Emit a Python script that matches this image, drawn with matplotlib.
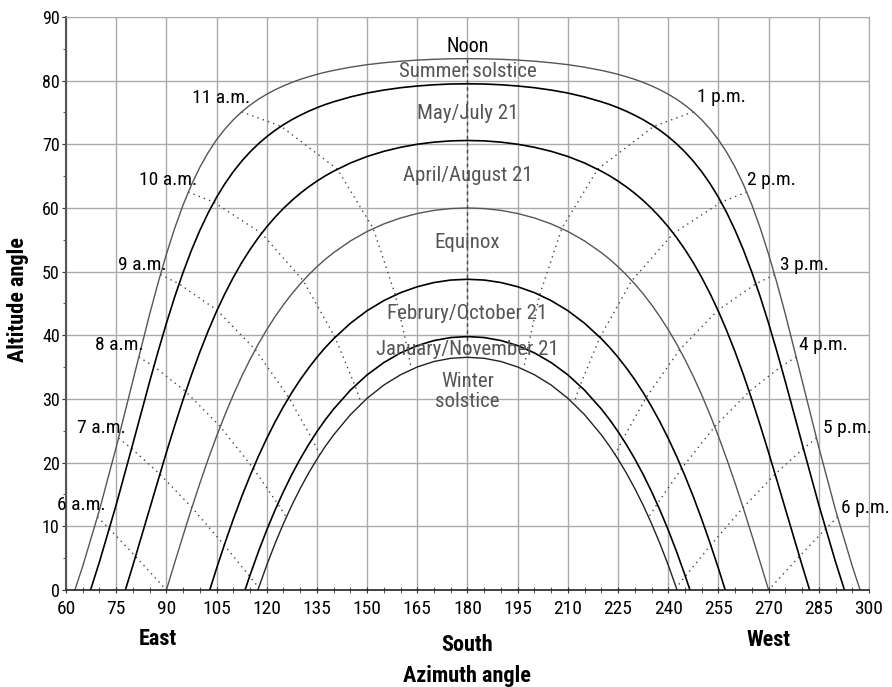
import matplotlib
matplotlib.use("Agg")
import matplotlib.pyplot as plt
from matplotlib.ticker import MultipleLocator

plt.rcParams['font.family'] = ['Roboto Condensed', 'Liberation Sans Narrow', 'Roboto', 'DejaVu Sans']

# sun path curves (azimuth, altitude)
summer_az = [62.65, 65, 70, 75, 80, 85, 87.5, 90, 92.5, 95, 97.5, 100, 102.5, 105, 107.5, 110, 112.5, 115, 117.5, 120,
             122.5, 125, 127.5, 130, 132.5, 135, 137.5, 140, 145, 150, 155, 160, 165, 170, 175, 180,
             185, 190, 195, 200, 205, 210, 215, 220, 222.5, 225, 227.5, 230, 232.5, 235, 237.5, 240, 242.5, 245,
             247.5, 250, 252.5, 255, 257.5, 260, 262.5, 265, 267.5, 270, 272.5, 275, 280, 285, 290, 295, 297.35]
summer_alt = [0, 3.75, 12.57, 22.42, 32.91, 43.32, 48.20, 52.73, 56.84, 60.48, 63.66, 66.39, 68.72, 70.72, 72.40, 73.85,
              75.09, 76.15, 77.08, 77.87, 78.57, 79.18, 79.72, 80.20, 80.61, 80.99, 81.32, 81.61, 82.11, 82.51, 82.81,
              83.05, 83.23, 83.35, 83.43, 83.45,
              83.43, 83.35, 83.23, 83.05, 82.81, 82.51, 82.11, 81.61, 81.32, 80.99, 80.61, 80.20, 79.72, 79.18, 78.57,
              77.87, 77.08, 76.15, 75.09, 73.85, 72.40, 70.72, 68.72, 66.39, 63.66, 60.48, 56.84, 52.73, 48.20, 43.32,
              32.91, 22.42, 12.57, 3.75, 0]

may_az = [67.33, 70, 75, 80, 85, 87.5, 90, 92.5, 95, 97.5, 100, 102.5, 105, 107.5, 110, 112.5, 115, 117.5, 120, 122.5,
          125, 127.5, 130, 132.5, 135, 137.5, 140, 145, 150, 155, 160, 165, 170, 175, 180,
          185, 190, 195, 200, 205, 210, 215, 220, 222.5, 225, 227.5, 230, 232.5, 235, 237.5, 240, 242.5, 245, 247.5,
          250, 252.5, 255, 257.5, 260, 262.5, 265, 267.5, 270, 272.5, 275, 280, 285, 290, 292.67]
may_alt = [0, 4.42, 13.38, 23.00, 32.73, 37.42, 41.88, 46.06, 49.89, 53.37, 56.48, 59.24, 61.68, 63.82, 65.70, 67.35,
           68.80, 70.07, 71.20, 72.20, 73.08, 73.87, 74.56, 75.19, 75.75, 76.25, 76.68, 77.44, 78.05, 78.52, 78.89,
           79.16, 79.35, 79.47, 79.5,
           79.47, 79.35, 79.16, 78.89, 78.52, 78.05, 77.44, 76.68, 76.25, 75.75, 75.19, 74.56, 73.87, 73.08, 72.20,
           71.20, 70.07, 68.80, 67.35, 65.70, 63.82, 61.68, 59.24, 56.48, 53.37, 49.89, 46.06, 41.88, 37.42, 32.73,
           23.00, 13.38, 4.42, 0]

apr_az = [77.74, 80, 85, 87.5, 90, 92.5, 95, 97.5, 100, 102.5, 105, 107.5, 110, 112.5, 115, 117.5, 120, 122.5, 125,
          127.5, 130, 132.5, 135, 137.5, 140, 145, 150, 155, 160, 165, 170, 175, 180,
          185, 190, 195, 200, 205, 210, 215, 220, 222.5, 225, 227.5, 230, 232.5, 235, 237.5, 240, 242.5, 245, 247.5,
          250, 252.5, 255, 257.5, 260, 262.5, 265, 267.5, 270, 272.5, 275, 280, 282.26]
apr_alt = [0, 3.89, 12.75, 17.20, 21.59, 25.84, 29.91, 33.77, 37.37, 40.70, 43.77, 46.55, 49.09, 51.40, 53.47, 55.35,
           57.04, 58.56, 59.94, 61.18, 62.30, 63.31, 64.22, 65.05, 65.78, 67.06, 68.09, 68.90, 69.53, 70.01, 70.34,
           70.54, 70.6,
           70.54, 70.34, 70.01, 69.53, 68.90, 68.09, 67.06, 65.78, 65.05, 64.22, 63.31, 62.30, 61.18, 59.94, 58.56,
           57.04, 55.35, 53.47, 51.40, 49.09, 46.55, 43.77, 40.70, 37.37, 33.77, 29.91, 25.84, 21.59, 17.20, 12.75,
           3.89, 0]

equinox_az = [90, 92.5, 95, 97.5, 100, 102.5, 105, 107.5, 110, 112.5, 115, 117.5, 120, 122.5, 125, 127.5, 130, 132.5,
              135, 137.5, 140, 145, 150, 155, 160, 165, 170, 175, 180,
              185, 190, 195, 200, 205, 210, 215, 220, 222.5, 225, 227.5, 230, 232.5, 235, 237.5, 240, 242.5, 245,
              247.5, 250, 252.5, 255, 257.5, 260, 262.5, 265, 267.5, 270]
equinox_alt = [0, 4.32, 8.58, 12.74, 16.74, 20.55, 24.15, 27.51, 30.64, 33.54, 36.20, 38.65, 40.89, 42.94, 44.81, 46.52,
               48.07, 49.48, 50.77, 51.94, 52.99, 54.82, 56.31, 57.50, 58.43, 59.13, 59.62, 59.91, 60.0,
               59.91, 59.62, 59.13, 58.43, 57.50, 56.31, 54.82, 52.99, 51.94, 50.77, 49.48, 48.07, 46.52, 44.81,
               42.94, 40.89, 38.65, 36.20, 33.54, 30.64, 27.51, 24.15, 20.55, 16.74, 12.74, 8.58, 4.32, 0]

feb_az = [102.96, 105, 107.5, 110, 112.5, 115, 117.5, 120, 122.5, 125, 127.5, 130, 132.5, 135, 137.5, 140, 145, 150,
          155, 160, 165, 170, 175, 180,
          185, 190, 195, 200, 205, 210, 215, 220, 222.5, 225, 227.5, 230, 232.5, 235, 237.5, 240, 242.5, 245, 247.5,
          250, 252.5, 255, 257.04]
feb_alt = [0, 3.39, 7.36, 11.12, 14.65, 17.93, 20.99, 23.81, 26.42, 28.81, 31.02, 33.03, 34.86, 36.55, 38.08, 39.47,
           41.89, 43.87, 45.45, 46.70, 47.63, 48.29, 48.68, 48.8,
           48.68, 48.29, 47.63, 46.70, 45.45, 43.87, 41.89, 39.47, 38.08, 36.55, 34.86, 33.03, 31.02, 28.81, 26.42,
           23.81, 20.99, 17.93, 14.65, 11.12, 7.36, 3.39, 0]

jan_az = [113.50, 115, 117.5, 120, 122.5, 125, 127.5, 130, 132.5, 135, 137.5, 140, 145, 150, 155, 160, 165, 170, 175,
          180,
          185, 190, 195, 200, 205, 210, 215, 220, 222.5, 225, 227.5, 230, 232.5, 235, 237.5, 240, 242.5, 245, 246.50]
jan_alt = [0, 2.33, 6.01, 9.42, 12.57, 15.47, 18.15, 20.59, 22.82, 24.87, 26.74, 28.43, 31.38, 33.79, 35.72, 37.24,
           38.38, 39.18, 39.65, 39.8,
           39.65, 39.18, 38.38, 37.24, 35.72, 33.79, 31.38, 28.43, 26.74, 24.87, 22.82, 20.59, 18.15, 15.47, 12.57,
           9.42, 6.01, 2.33, 0]

winter_az = [117.35, 120, 122.5, 125, 127.5, 130, 132.5, 135, 137.5, 140, 145, 150, 155, 160, 165, 170, 175, 180,
             185, 190, 195, 200, 205, 210, 215, 220, 222.5, 225, 227.5, 230, 232.5, 235, 237.5, 240, 242.65]
winter_alt = [0, 3.91, 7.31, 10.44, 13.32, 15.94, 18.35, 20.55, 22.56, 24.37, 27.53, 30.11, 32.19, 33.81, 35.03,
              35.89, 36.39, 36.55,
              36.39, 35.89, 35.03, 33.81, 32.19, 30.11, 27.53, 24.37, 22.56, 20.55, 18.35, 15.94, 13.32, 10.44,
              7.31, 3.91, 0]

# hour lines, points from summer solstice down to winter solstice
am_labels = ['6 a.m.', '7 a.m.', '8 a.m.', '9 a.m.', '10 a.m.', '11 a.m.']
am_az = [[69.41, 72.95, 80.79, 90.0],
         [75.70, 79.60, 88.06, 97.63, 107.30, 114.88, 117.60],
         [81.75, 86.26, 95.80, 106.10, 115.95, 123.29, 125.84],
         [88.21, 93.79, 105.15, 116.57, 126.59, 133.55, 135.88],
         [96.55, 104.18, 118.45, 130.89, 140.41, 146.37, 148.27],
         [112.53, 124.26, 141.11, 151.82, 158.43, 162.11, 163.22]]
am_alt = [[11.48, 9.61, 5.28, 0],
          [23.86, 22.22, 18.20, 12.95, 7.05, 2.16, 0.38],
          [36.60, 35.11, 31.17, 25.66, 19.13, 13.52, 11.44],
          [49.53, 48.09, 43.94, 37.76, 30.24, 23.71, 21.27],
          [62.50, 60.91, 56.02, 48.59, 39.69, 32.09, 29.28],
          [75.10, 72.83, 66.09, 56.78, 46.34, 37.76, 34.64]]

pm_labels = ['1 p.m.', '2 p.m.', '3 p.m.', '4 p.m.', '5 p.m.', '6 p.m.']
pm_az = [[247.47, 235.74, 218.89, 208.18, 201.57, 197.89, 196.78],
         [263.45, 255.82, 241.55, 229.11, 219.59, 213.63, 211.73],
         [271.79, 266.21, 254.85, 243.43, 233.41, 226.45, 224.12],
         [278.25, 273.74, 264.20, 253.90, 244.05, 236.71, 234.16],
         [284.30, 280.40, 271.94, 262.37, 252.70, 245.12, 242.40],
         [290.59, 287.05, 279.21, 270.0]]
pm_alt = [[75.10, 72.83, 66.09, 56.78, 46.34, 37.76, 34.64],
          [62.50, 60.91, 56.02, 48.59, 39.69, 32.09, 29.28],
          [49.53, 48.09, 43.94, 37.76, 30.24, 23.71, 21.27],
          [36.60, 35.11, 31.17, 25.66, 19.13, 13.52, 11.44],
          [23.86, 22.22, 18.20, 12.95, 7.05, 2.16, 0.38],
          [11.48, 9.61, 5.28, 0]]

noon_az = [180, 180]
noon_alt = [83.45, 36.55]

GRAY = '#555555'

fig = plt.figure(figsize=(8.92, 6.87), dpi=100)
ax = fig.add_axes([0.074, 0.1412, 0.9002, 0.8341])

ax.set_xlim(60, 300)
ax.set_ylim(0, 90)
ax.xaxis.set_major_locator(MultipleLocator(15))
ax.xaxis.set_minor_locator(MultipleLocator(5))
ax.yaxis.set_major_locator(MultipleLocator(10))
ax.yaxis.set_minor_locator(MultipleLocator(5))
ax.grid(True, which='major', color='#aaaaaa', linewidth=1.0)
ax.set_axisbelow(True)

ax.tick_params(axis='x', which='both', direction='inout', length=4, labelsize=14, pad=5, color='#333333')
ax.tick_params(axis='y', which='major', direction='out', length=3, labelsize=13, pad=1.5, color='#333333')
ax.tick_params(axis='y', which='minor', direction='out', length=2.5, color='#333333')

for side in ['top', 'right']:
    ax.spines[side].set_color('#aaaaaa')
ax.spines['left'].set_color('#555555')
ax.spines['left'].set_linewidth(1.5)
ax.spines['bottom'].set_color('#222222')
ax.spines['bottom'].set_linewidth(1.2)

# hour lines
dot = (0, (1, 3))
for xs, ys in zip(am_az, am_alt):
    ax.plot(xs, ys, color='#444444', linewidth=1.0, linestyle=dot)
for xs, ys in zip(pm_az, pm_alt):
    ax.plot(xs, ys, color='#444444', linewidth=1.0, linestyle=dot)
ax.plot(noon_az, noon_alt, color='#444444', linewidth=1.0, linestyle=(0, (2.5, 2.5)))

# sun paths
ax.plot(summer_az, summer_alt, color=GRAY, linewidth=1.0)
ax.plot(may_az, may_alt, color='black', linewidth=1.2)
ax.plot(apr_az, apr_alt, color='black', linewidth=1.2)
ax.plot(equinox_az, equinox_alt, color=GRAY, linewidth=1.0)
ax.plot(feb_az, feb_alt, color='black', linewidth=1.2)
ax.plot(jan_az, jan_alt, color='black', linewidth=1.2)
ax.plot(winter_az, winter_alt, color='#222222', linewidth=1.0)

# date labels
fs = 15
ax.text(180, 85.4, 'Noon', ha='center', va='center', fontsize=14.5, color='black')
ax.text(180, 81.5, 'Summer solstice', ha='center', va='center', fontsize=fs, color=GRAY)
ax.text(180, 74.8, 'May/July 21', ha='center', va='center', fontsize=fs, color=GRAY)
ax.text(180, 65.1, 'April/August 21', ha='center', va='center', fontsize=fs, color=GRAY)
ax.text(180, 54.5, 'Equinox', ha='center', va='center', fontsize=fs, color=GRAY)
ax.text(180, 43.4, 'Februry/October 21', ha='center', va='center', fontsize=fs, color=GRAY)
ax.text(180, 37.7, 'January/November 21', ha='center', va='center', fontsize=fs, color=GRAY)
ax.text(180, 31.2, 'Winter\nsolstice', ha='center', va='center', fontsize=fs, color=GRAY, linespacing=1.05)

# hour labels
am_pos = [(71.7, 13.3), (77.9, 25.4), (83.1, 38.5), (90.1, 51.0), (99.1, 64.4), (115.0, 77.2)]
for lab, (x, y) in zip(am_labels, am_pos):
    ax.text(x, y, lab, ha='right', va='center', fontsize=14, color='black', clip_on=False)
pm_pos = [(248.5, 77.4), (263.4, 64.4), (273.4, 51.0), (279.2, 38.5), (286.2, 25.4), (291.6, 12.8)]
for lab, (x, y) in zip(pm_labels, pm_pos):
    ax.text(x, y, lab, ha='left', va='center', fontsize=14, color='black', clip_on=False)

# axis titles
fig.text(0.0202, 0.5633, 'Altitude angle', rotation=90, ha='center', va='center', fontsize=16, fontweight='bold')
fig.text(0.5232, 0.0160, 'Azimuth angle', ha='center', va='center', fontsize=16, fontweight='bold')
fig.text(0.1766, 0.0699, 'East', ha='center', va='center', fontsize=16, fontweight='bold')
fig.text(0.5232, 0.0611, 'South', ha='center', va='center', fontsize=16, fontweight='bold')
fig.text(0.8613, 0.0684, 'West', ha='center', va='center', fontsize=16, fontweight='bold')

fig.savefig('out.png', dpi=100)
